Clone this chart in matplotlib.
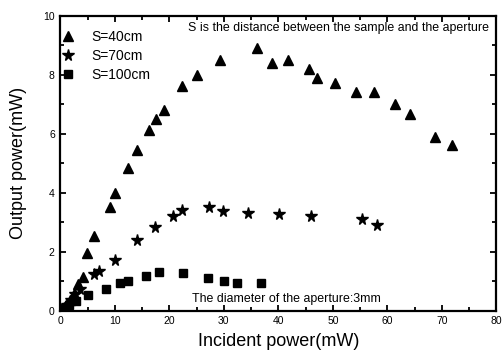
import matplotlib
matplotlib.use("Agg")
import matplotlib.pyplot as plt
from matplotlib.ticker import MultipleLocator

plt.rcParams['font.family'] = ['Liberation Sans', 'DejaVu Sans']

# S = 40 cm (triangles)
x40 = [0.5, 1.0, 1.8, 2.5, 3.3, 4.1, 4.9, 6.2, 9.1, 10.1, 12.4, 14.1, 16.2, 17.6, 19.0,
       22.4, 25.1, 29.3, 36.0, 38.8, 41.7, 45.7, 47.1, 50.4, 54.2, 57.6, 61.4, 64.2, 68.7, 71.9]
y40 = [0.1, 0.2, 0.35, 0.55, 0.9, 1.15, 1.94, 2.53, 3.52, 4.0, 4.82, 5.43, 6.12, 6.48, 6.8,
       7.61, 7.98, 8.49, 8.89, 8.38, 8.49, 8.19, 7.89, 7.70, 7.40, 7.40, 7.0, 6.68, 5.89, 5.61]

# S = 70 cm (stars)
x70 = [0.6, 1.2, 2.0, 2.7, 3.6, 6.1, 7.0, 10.1, 14.0, 17.4, 20.7, 22.4, 27.2, 29.9, 34.5,
       40.1, 46.0, 55.4, 58.0]
y70 = [0.1, 0.2, 0.35, 0.55, 0.72, 1.23, 1.33, 1.72, 2.41, 2.82, 3.20, 3.41, 3.50, 3.39, 3.32,
       3.26, 3.20, 3.10, 2.90]

# S = 100 cm (squares)
x100 = [0.8, 1.5, 2.8, 5.0, 8.3, 11.0, 12.4, 15.8, 18.1, 22.5, 27.1, 30.1, 32.4, 36.8]
y100 = [0.1, 0.2, 0.33, 0.54, 0.74, 0.92, 1.01, 1.17, 1.32, 1.26, 1.11, 1.01, 0.92, 0.92]

labels = ['S=40cm', 'S=70cm', 'S=100cm']

fig = plt.figure(figsize=(5.03, 3.53), dpi=100)
ax = fig.add_axes([0.120, 0.120, 0.867, 0.836])

ax.plot(x40, y40, linestyle='none', marker='^', color='black', markersize=7.5, label=labels[0])
ax.plot(x70, y70, linestyle='none', marker='*', color='black', markersize=8.5, label=labels[1])
ax.plot(x100, y100, linestyle='none', marker='s', color='black', markersize=5.5, label=labels[2])

ax.set_xlim(0, 80)
ax.set_ylim(0, 10)
ax.xaxis.set_major_locator(MultipleLocator(10))
ax.xaxis.set_minor_locator(MultipleLocator(5))
ax.yaxis.set_major_locator(MultipleLocator(2))
ax.yaxis.set_minor_locator(MultipleLocator(1))
ax.tick_params(which='both', direction='in', top=True, right=True, width=1.3, labelsize=7.5, pad=4)
ax.tick_params(which='major', length=4)
ax.tick_params(which='minor', length=3)
for s in ax.spines.values():
    s.set_linewidth(1.6)

ax.set_xlabel('Incident power(mW)', fontsize=13, labelpad=5)
ax.set_ylabel('Output power(mW)', fontsize=13, labelpad=12)

ax.legend(loc='upper left', bbox_to_anchor=(-0.012, 0.965), frameon=False, fontsize=10,
          handlelength=1.2, handletextpad=1.1, labelspacing=0.35, borderaxespad=0, borderpad=0.3)

ax.text(0.984, 0.958, 'S is the distance between the sample and the aperture',
        transform=ax.transAxes, ha='right', va='center', fontsize=8.9)
ax.text(0.303, 0.04, 'The diameter of the aperture:3mm',
        transform=ax.transAxes, ha='left', va='center', fontsize=8.9)

fig.savefig('out.png', dpi=100)
